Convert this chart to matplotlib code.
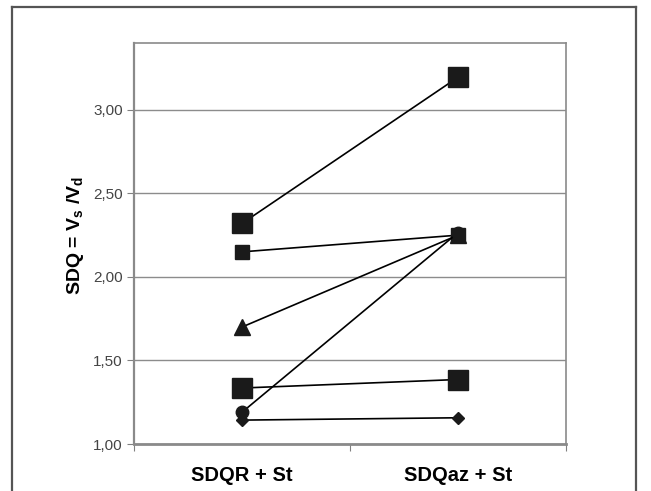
import numpy as np
import matplotlib
matplotlib.use("Agg")
import matplotlib.pyplot as plt
from matplotlib.lines import Line2D

plt.rcParams['font.family'] = ['Liberation Sans', 'DejaVu Sans']
plt.rcParams['mathtext.fontset'] = 'custom'
plt.rcParams['mathtext.rm'] = 'Liberation Sans:bold'
plt.rcParams['mathtext.it'] = 'Liberation Sans:bold'
plt.rcParams['mathtext.bf'] = 'Liberation Sans:bold'

# ------------------------------ dados ------------------------------
categorias = ["SDQR + St", "SDQaz + St"]
y_ticks = [1.0, 1.5, 2.0, 2.5, 3.0]

quadrado_a = [2.32, 3.195]
quadrado_pequeno = [2.15, 2.25]
triangulo = [1.70, 2.25]
circulo = [1.19, 2.265]
quadrado_b = [1.335, 1.386]
losango = [1.143, 1.157]

# (valores, marcador, tamanho)
series = [
    (quadrado_a, 's', 14.5),
    (quadrado_pequeno, 's', 9.5),
    (triangulo, '^', 11),
    (circulo, 'o', 9),
    (quadrado_b, 's', 14.5),
    (losango, 'D', 6.3),
]

# ------------------------------ figura ------------------------------
fig = plt.figure(figsize=(6.51, 4.91), dpi=100)
ax = fig.add_axes([134/651, 1 - 444/491, 432/651, 401/491])

x = np.arange(len(categorias))
for valores, marcador, tam in series:
    ax.plot(x, valores, color='black', lw=1.2, marker=marcador,
            markersize=tam, markerfacecolor='#1a1a1a', markeredgecolor='#1a1a1a')

ax.set_xlim(-0.5, 1.5)
ax.set_ylim(1.0, 3.4)

ax.set_yticks(y_ticks)
ax.set_yticklabels([("%.2f" % v).replace('.', ',') for v in y_ticks],
                   fontsize=11, color='#444444')
ax.yaxis.grid(True, color='#8c8c8c', lw=1.0)
ax.set_axisbelow(True)

ax.set_xticks([-0.5, 0.5, 1.5])
ax.set_xticklabels([])
ax.set_xticks(x, minor=True)
ax.set_xticklabels(categorias, minor=True, fontsize=14.5, fontweight='bold')
ax.tick_params(axis='x', which='minor', length=0, pad=16)
ax.tick_params(axis='x', which='major', length=5, color='#808080', direction='out')
ax.tick_params(axis='y', length=5, color='#808080', pad=3)

for lado in ['left', 'bottom', 'top', 'right']:
    ax.spines[lado].set_color('#8a8a8a')
    ax.spines[lado].set_linewidth(1.2)
ax.spines['bottom'].set_linewidth(2.0)
ax.spines['left'].set_linewidth(1.6)

fig.text(75/651, 1 - 235/491, r"SDQ = V$_\mathrm{s}$ /V$_\mathrm{d}$",
         rotation=90, fontsize=14, fontweight='bold', ha='center', va='center')

# moldura externa (sem borda inferior)
xl, xr, yt = 12/651, 636/651, 1 - 7/491
for xs, ys in [([xl, xl], [0, yt]), ([xl, xr], [yt, yt]), ([xr, xr], [yt, 0])]:
    fig.add_artist(Line2D(xs, ys, transform=fig.transFigure, color='#555555', lw=1.6))

fig.savefig("out.png", dpi=100)
